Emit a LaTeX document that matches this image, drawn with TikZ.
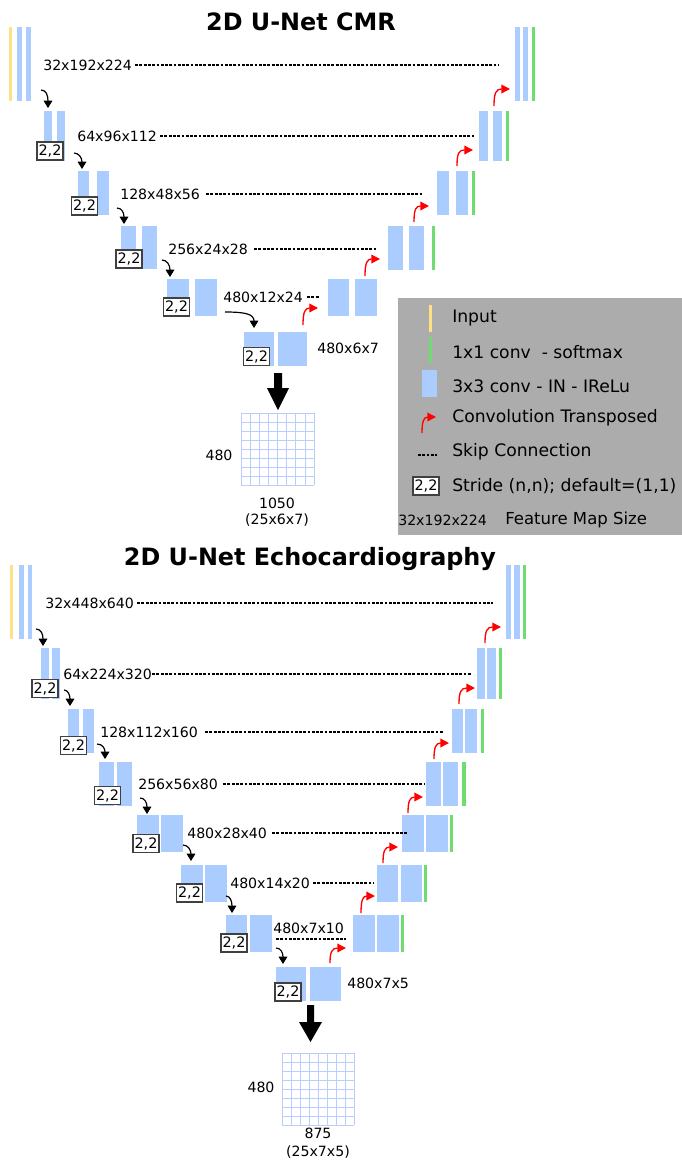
\documentclass[tikz,border=0pt]{standalone}
\usepackage{fontspec}
\setmainfont{DejaVu Sans}
\usetikzlibrary{arrows.meta}
\definecolor{ublue}{RGB}{170,204,255}
\definecolor{uyellow}{RGB}{255,224,130}
\definecolor{ugreen}{RGB}{110,220,110}
\definecolor{ugray}{RGB}{172,172,172}
\definecolor{ugrid}{RGB}{185,205,255}
\newcommand\blk[6]{\node[#1, minimum width={0.75pt*(#4-#2)}, minimum height={0.75pt*(#5-#3)}] (#6) at ({(#2+#4)/2},{(#3+#5)/2}) {};}
\tikzset{
  bb/.style={fill=ublue, inner sep=0pt, outer sep=0pt, draw=none},
  yb/.style={fill=uyellow, inner sep=0pt, outer sep=0pt, draw=none},
  gb/.style={fill=ugreen, inner sep=0pt, outer sep=0pt, draw=none},
  stridebox/.style={draw=black!75, line width=0.9pt, fill=white, inner sep=0pt, minimum width=19.5pt, minimum height=13.5pt, font=\fontsize{10.8}{12}\selectfont},
  lbl/.style={inner sep=0pt, anchor=west, font=\fontsize{10.6}{12}\selectfont},
  ctr/.style={inner sep=0pt, font=\fontsize{10.6}{12}\selectfont},
  leg/.style={inner sep=0pt, anchor=west, font=\fontsize{12.9}{14}\selectfont},
  ttl/.style={inner sep=0pt, font=\fontsize{17.9}{20}\selectfont\bfseries},
  skip/.style={draw=black, line width=1pt, dash pattern=on 2.1pt off 1.1pt},
  down/.style={draw=black, line width=0.9pt, -{Triangle[length=5.5pt,width=6.5pt]}},
  up/.style={draw=red, line width=1pt, -{Triangle[length=6.5pt,width=6.5pt]}},
  gridl/.style={draw=ugrid, line width=0.55pt},
}
\begin{document}
\begin{tikzpicture}[x=0.75pt,y=-0.75pt]
\useasboundingbox (0,0) rectangle (682,1161);
% ================= TOP: CMR =================
\node[ttl] (t1) at (301,22) {2D U-Net CMR};
% level 0
\blk{yb}{9}{27}{12}{101}{a0y}
\blk{bb}{17}{27}{22}{101}{a0a}
\blk{bb}{26}{27}{31}{101}{a0b}
\blk{bb}{515}{27}{520}{101}{b0a}
\blk{bb}{523}{27}{528}{101}{b0b}
\blk{gb}{532}{27}{535}{101}{b0g}
\node[lbl] (l0) at (43,65) {32x192x224};
\coordinate (d0) at (498,65);
\draw[skip] (l0.east)++(3,0) -- (d0);
% level 1
\blk{bb}{44}{111}{52}{161}{a1a}
\blk{bb}{57}{111}{65}{161}{a1b}
\blk{bb}{479}{111}{488}{161}{b1a}
\blk{bb}{493}{111}{502}{161}{b1b}
\blk{gb}{506}{111}{509}{161}{b1g}
\node[stridebox] (s1) at (50,151) {2,2};
\node[lbl] (l1) at (77,136) {64x96x112};
\coordinate (d1) at (475,136);
\draw[skip] (l1.east)++(3,0) -- (d1);
% level 2
\blk{bb}{78}{171}{89}{215}{a2a}
\blk{bb}{97}{171}{109}{215}{a2b}
\blk{bb}{437}{171}{449}{215}{b2a}
\blk{bb}{456}{171}{468}{215}{b2b}
\blk{gb}{472}{171}{475}{215}{b2g}
\node[stridebox] (s2) at (84.5,206) {2,2};
\node[lbl] (l2) at (120,194) {128x48x56};
\coordinate (d2) at (423,194);
\draw[skip] (l2.east)++(6,0) -- (d2);
% level 3
\blk{bb}{121}{226}{136}{269}{a3a}
\blk{bb}{142}{226}{157}{269}{a3b}
\blk{bb}{388}{226}{403}{270}{b3a}
\blk{bb}{409}{226}{424}{270}{b3b}
\blk{gb}{432}{226}{435}{270}{b3g}
\node[stridebox] (s3) at (129,259) {2,2};
\node[lbl] (l3) at (168,249) {256x24x28};
\coordinate (d3) at (376,249);
\draw[skip] (l3.east)++(6,0) -- (d3);
% level 4
\blk{bb}{167}{279}{189}{316}{a4a}
\blk{bb}{195}{279}{217}{316}{a4b}
\blk{bb}{328}{279}{349}{316}{b4a}
\blk{bb}{355}{279}{377}{316}{b4b}
\node[stridebox] (s4) at (176.5,307) {2,2};
\node[lbl] (l4) at (223,297) {480x12x24};
\coordinate (d4) at (319,297);
\draw[skip] (l4.east)++(4,0) -- (d4);
% level 5
\blk{bb}{244}{332}{274}{366}{a5a}
\blk{bb}{278}{332}{307}{366}{a5b}
\node[stridebox] (s5) at (256.5,356.5) {2,2};
\node[lbl] (l5) at (317,348) {480x6x7};
% down arrows
\coordinate (p0s) at (41,90);   \coordinate (p0e) at (48,108);
\coordinate (p1s) at (74,153);  \coordinate (p1e) at (82,169);
\coordinate (p2s) at (117,208); \coordinate (p2e) at (124,224);
\coordinate (p3s) at (162,260); \coordinate (p3e) at (170,277);
\coordinate (p4s) at (225,312); \coordinate (p4e) at (254,328);
\draw[down] (p0s) .. controls (46,90) and (48,95) .. (p0e);
\draw[down] (p1s) .. controls (79,153) and (82,158) .. (p1e);
\draw[down] (p2s) .. controls (122,208) and (124,213) .. (p2e);
\draw[down] (p3s) .. controls (167,260) and (170,265) .. (p3e);
\draw[down] (p4s) .. controls (245,312) and (254,314) .. (p4e);
% up arrows
\coordinate (q0s) at (494,106); \coordinate (q0e) at (510,89);
\coordinate (q1s) at (457,166); \coordinate (q1e) at (473,150);
\coordinate (q2s) at (414,222); \coordinate (q2e) at (429,206);
\coordinate (q3s) at (365,276); \coordinate (q3e) at (380,259);
\coordinate (q4s) at (303,325); \coordinate (q4e) at (318,308);
\draw[up] (q0s) .. controls (494,93) and (496,89) .. (q0e);
\draw[up] (q1s) .. controls (457,153) and (459,150) .. (q1e);
\draw[up] (q2s) .. controls (414,209) and (416,206) .. (q2e);
\draw[up] (q3s) .. controls (365,263) and (367,259) .. (q3e);
\draw[up] (q4s) .. controls (303,312) and (305,308) .. (q4e);
% bottleneck arrow + grid
\fill[black] (274,373) -- (282,373) -- (282,388) -- (289,388) -- (278,410) -- (267,388) -- (274,388) -- cycle;
\foreach \i in {0,...,8} {
  \draw[gridl] ({241+\i*9.125},413) -- ({241+\i*9.125},485);
  \draw[gridl] (241,{413+\i*9}) -- (314,{413+\i*9});
}
\node[inner sep=0pt, minimum width=54.75pt, minimum height=54pt] (g1) at (277.5,449) {};
\node[ctr] (g1l) at (219,455) {480};
\node[ctr] (g1a) at (277,503) {1050};
\node[ctr] (g1b) at (277,520) {(25x6x7)};
% ================= LEGEND =================
\fill[ugray] (398,298) rectangle (682,535);
\node[inner sep=0pt, minimum width=2.25pt, minimum height=20pt, fill=uyellow] (ly) at (430.5,318.5) {};
\node[leg] (lt1) at (452,318) {Input};
\node[inner sep=0pt, minimum width=2.25pt, minimum height=19.5pt, fill=ugreen] (lg) at (430.5,350) {};
\node[leg] (lt2) at (452,352) {1x1 conv\ \ - softmax};
\node[inner sep=0pt, minimum width=11.25pt, minimum height=20pt, fill=ublue] (lb) at (429.5,383.5) {};
\node[leg] (lt3) at (452,386) {3x3 conv - IN - IReLu};
\coordinate (lrs) at (422,433); \coordinate (lre) at (436,417);
\draw[up] (lrs) .. controls (422,421) and (424,417) .. (lre);
\node[leg] (lt4) at (452,418) {Convolution Transposed};
\coordinate (lds) at (418,455); \coordinate (lde) at (437,455);
\draw[skip] (lds) -- (lde);
\node[leg] (lt5) at (452,452) {Skip Connection};
\node[stridebox] (ls) at (426,486) {2,2};
\node[leg] (lt6) at (452,486) {Stride (n,n); default=(1,1)};
\node[lbl] (lt7a) at (398,520) {32x192x224};
\node[leg, font=\fontsize{12.4}{14}\selectfont] (lt7) at (505,520) {Feature Map Size};
% ================= BOTTOM: Echo =================
\node[ttl] (t2) at (310,559) {2D U-Net Echocardiography};
% level 0
\blk{yb}{10}{565}{13}{639}{c0y}
\blk{bb}{19}{565}{24}{639}{c0a}
\blk{bb}{28}{565}{32}{639}{c0b}
\blk{bb}{506}{565}{511}{639}{e0a}
\blk{bb}{514}{565}{520}{639}{e0b}
\blk{gb}{523}{565}{526}{639}{e0g}
\node[lbl] (m0) at (45,603) {32x448x640};
\coordinate (f0) at (493,603);
\draw[skip] (m0.east)++(3,0) -- (f0);
% level 1
\blk{bb}{41}{648}{49}{699}{c1a}
\blk{bb}{52}{648}{60}{699}{c1b}
\blk{bb}{477}{648}{485}{699}{e1a}
\blk{bb}{487}{648}{496}{699}{e1b}
\blk{gb}{499}{648}{502}{699}{e1g}
\node[stridebox] (u1) at (45,688.5) {2,2};
\node[lbl] (m1) at (63,674) {64x224x320};
\coordinate (f1) at (472,674);
\draw[skip] (m1.east) -- (f1);
% level 2
\blk{bb}{68}{709}{79}{753}{c2a}
\blk{bb}{83}{709}{94}{753}{c2b}
\blk{bb}{452}{709}{463}{753}{e2a}
\blk{bb}{465}{709}{477}{753}{e2b}
\blk{gb}{481}{709}{484}{753}{e2g}
\node[stridebox] (u2) at (73.5,745.5) {2,2};
\node[lbl] (m2) at (100,732) {128x112x160};
\coordinate (f2) at (443,732);
\draw[skip] (m2.east)++(7,0) -- (f2);
% level 3
\blk{bb}{99}{762}{114}{806}{c3a}
\blk{bb}{117}{762}{132}{806}{c3b}
\blk{bb}{426}{762}{441}{806}{e3a}
\blk{bb}{443}{762}{458}{806}{e3b}
\blk{gb}{462}{762}{466}{806}{e3g}
\node[stridebox] (u3) at (107.5,795.5) {2,2};
\node[lbl] (m3) at (138,784) {256x56x80};
\coordinate (f3) at (425,784);
\draw[skip] (m3.east)++(5,0) -- (f3);
% level 4
\blk{bb}{137}{815}{159}{852}{c4a}
\blk{bb}{161}{815}{183}{852}{c4b}
\blk{bb}{402}{815}{424}{852}{e4a}
\blk{bb}{426}{815}{448}{852}{e4b}
\blk{gb}{450}{815}{453}{852}{e4g}
\node[stridebox] (u4) at (146,843.5) {2,2};
\node[lbl] (m4) at (187,833) {480x28x40};
\coordinate (f4) at (408,833);
\draw[skip] (m4.east)++(5,0) -- (f4);
% level 5
\blk{bb}{181}{865}{203}{902}{c5a}
\blk{bb}{205}{865}{227}{902}{c5b}
\blk{bb}{377}{865}{398}{902}{e5a}
\blk{bb}{401}{865}{422}{902}{e5b}
\blk{gb}{424}{865}{427}{902}{e5g}
\node[stridebox] (u5) at (189.5,893) {2,2};
\node[lbl] (m5) at (230,883) {480x14x20};
\coordinate (f5) at (373,883);
\draw[skip] (m5.east)++(3,0) -- (f5);
% level 6
\blk{bb}{226}{915}{247}{952}{c6a}
\blk{bb}{250}{915}{272}{952}{c6b}
\blk{bb}{353}{915}{375}{952}{e6a}
\blk{bb}{377}{915}{399}{952}{e6b}
\blk{gb}{401}{915}{404}{952}{e6g}
\node[stridebox] (u6) at (234,943) {2,2};
\node[lbl] (m6) at (273,928) {480x7x10};
\coordinate (f6s) at (276,939); \coordinate (f6) at (346,939);
\draw[skip] (f6s) -- (f6);
% level 7
\blk{bb}{276}{967}{306}{1001}{c7a}
\blk{bb}{310}{967}{341}{1001}{c7b}
\node[stridebox] (u7) at (288,992) {2,2};
\node[lbl] (m7) at (347,983) {480x7x5};
% down arrows
\coordinate (r0s) at (36,629);  \coordinate (r0e) at (43,646);
\coordinate (r1s) at (64,690);  \coordinate (r1e) at (70,706);
\coordinate (r2s) at (97,744);  \coordinate (r2e) at (105,759);
\coordinate (r3s) at (140,798); \coordinate (r3e) at (147,814);
\coordinate (r4s) at (183,845); \coordinate (r4e) at (191,861);
\coordinate (r5s) at (226,896); \coordinate (r5e) at (232,913);
\coordinate (r6s) at (276,948); \coordinate (r6e) at (283,964);
\draw[down] (r0s) .. controls (41,629) and (43,634) .. (r0e);
\draw[down] (r1s) .. controls (68,690) and (70,695) .. (r1e);
\draw[down] (r2s) .. controls (103,744) and (105,749) .. (r2e);
\draw[down] (r3s) .. controls (145,798) and (147,803) .. (r3e);
\draw[down] (r4s) .. controls (188,845) and (191,850) .. (r4e);
\draw[down] (r5s) .. controls (230,896) and (232,901) .. (r5e);
\draw[down] (r6s) .. controls (281,948) and (283,953) .. (r6e);
% up arrows
\coordinate (v0s) at (485,643); \coordinate (v0e) at (501,627);
\coordinate (v1s) at (459,704); \coordinate (v1e) at (475,688);
\coordinate (v2s) at (434,759); \coordinate (v2e) at (449,743);
\coordinate (v3s) at (408,813); \coordinate (v3e) at (423,797);
\coordinate (v4s) at (383,863); \coordinate (v4e) at (398,847);
\coordinate (v5s) at (361,913); \coordinate (v5e) at (375,896);
\coordinate (v6s) at (330,963); \coordinate (v6e) at (346,948);
\draw[up] (v0s) .. controls (485,631) and (487,627) .. (v0e);
\draw[up] (v1s) .. controls (459,692) and (461,688) .. (v1e);
\draw[up] (v2s) .. controls (434,747) and (436,743) .. (v2e);
\draw[up] (v3s) .. controls (408,801) and (410,797) .. (v3e);
\draw[up] (v4s) .. controls (383,851) and (385,847) .. (v4e);
\draw[up] (v5s) .. controls (361,900) and (363,896) .. (v5e);
\draw[up] (v6s) .. controls (330,952) and (332,948) .. (v6e);
% bottleneck arrow + grid
\fill[black] (307,1005) -- (314,1005) -- (314,1022) -- (322,1022) -- (310.5,1042) -- (299,1022) -- (307,1022) -- cycle;
\foreach \i in {0,...,8} {
  \draw[gridl] ({282+\i*9},1053) -- ({282+\i*9},1125);
  \draw[gridl] (282,{1053+\i*9}) -- (354,{1053+\i*9});
}
\node[inner sep=0pt, minimum width=54pt, minimum height=54pt] (g2) at (318,1089) {};
\node[ctr] (g2l) at (261,1087) {480};
\node[ctr] (g2a) at (318,1133) {875};
\node[ctr] (g2b) at (318,1152) {(25x7x5)};
\end{tikzpicture}
\end{document}
